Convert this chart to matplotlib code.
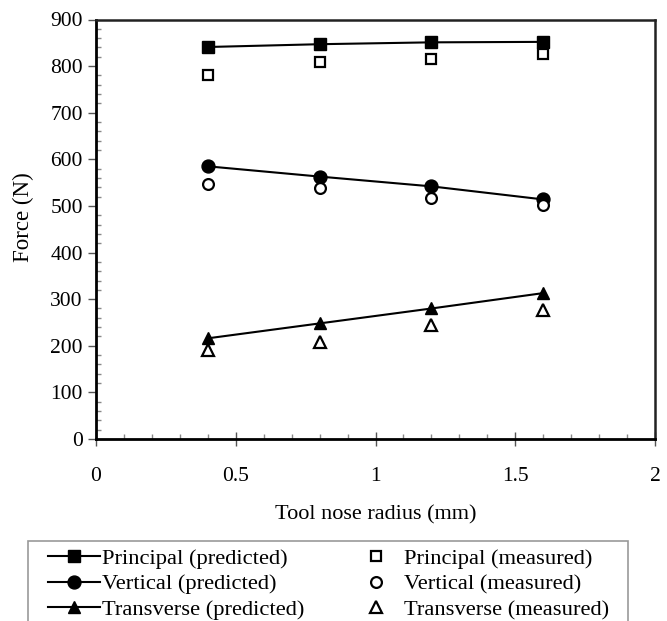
import numpy as np
import matplotlib.pyplot as plt
from matplotlib.patches import Rectangle
from matplotlib.ticker import MultipleLocator

plt.rcParams['font.family'] = ['Liberation Serif', 'DejaVu Serif']

# Radio de punta de herramienta (mm)
radius = [0.4, 0.8, 1.2, 1.6]

# Fuerzas (N)
principal_pred = [841, 847, 851, 852]
principal_meas = [782, 808, 815, 826]
vertical_pred = [585, 563, 542, 514]
vertical_meas = [547, 538, 518, 503]
transverse_pred = [216, 248, 280, 313]
transverse_meas = [191, 209, 245, 276]

fig = plt.figure(figsize=(6.67, 6.21), dpi=100)
ax = fig.add_axes([96 / 667, 1 - 439 / 621, (655 - 96) / 667, (439 - 19.5) / 621])

lw = 1.5
ms = 9.3
h1, = ax.plot(radius, principal_pred, '-s', color='black', lw=lw, ms=ms, label='Principal (predicted)')
h2, = ax.plot(radius, vertical_pred, '-o', color='black', lw=lw, ms=ms, label='Vertical (predicted)')
h3, = ax.plot(radius, transverse_pred, '-^', color='black', lw=lw, ms=ms, label='Transverse (predicted)')
h4, = ax.plot(radius, principal_meas, 's', mfc='white', mec='black', mew=1.6, ms=7.8, label='Principal (measured)')
h5, = ax.plot(radius, vertical_meas, 'o', mfc='white', mec='black', mew=1.6, ms=7.8, label='Vertical (measured)')
h6, = ax.plot(radius, transverse_meas, '^', mfc='white', mec='black', mew=1.6, ms=8.2, label='Transverse (measured)')

ax.set_xlim(0, 2)
ax.set_ylim(0, 900)
ax.xaxis.set_major_locator(MultipleLocator(0.5))
ax.xaxis.set_minor_locator(MultipleLocator(0.1))
ax.yaxis.set_major_locator(MultipleLocator(100))
ax.yaxis.set_minor_locator(MultipleLocator(20))
ax.set_xticks([0, 0.5, 1, 1.5, 2], ['0', '0.5', '1', '1.5', '2'])

ax.tick_params(axis='x', which='major', direction='inout', length=10, width=1, color='#555555', pad=15, labelsize=15.5)
ax.tick_params(axis='x', which='minor', direction='in', length=3.6, width=1, color='#888888')
ax.tick_params(axis='y', which='major', direction='out', length=6, width=1, color='#555555', pad=3.5, labelsize=15.5)
ax.tick_params(axis='y', which='minor', direction='in', length=3.6, width=1, color='#888888')

for side in ['left', 'bottom']:
    ax.spines[side].set_linewidth(2)
    ax.spines[side].set_color('black')
for side in ['top', 'right']:
    ax.spines[side].set_linewidth(1.8)
    ax.spines[side].set_color('#222222')

ax.set_xlabel('Tool nose radius (mm)', fontsize=16, labelpad=14)
ax.set_ylabel('Force (N)', fontsize=16.5)
ax.yaxis.set_label_coords(-0.111, 0.53)

# Cuadro de la leyenda (se sale por abajo de la figura)
fig.patches.append(Rectangle((28 / 667, -0.1), 600 / 667, 0.1 + (621 - 541) / 621,
                             transform=fig.transFigure, fill=False,
                             edgecolor='#999999', lw=1.2))
fig.legend(handles=[h1, h2, h3, h4, h5, h6], ncol=2, frameon=False,
           loc='upper left', bbox_to_anchor=(48 / 667, 1 - 548 / 621),
           fontsize=16.2, handlelength=2.3, handletextpad=0.1,
           labelspacing=0.22, columnspacing=2.05, borderaxespad=0,
           borderpad=0)

fig.savefig('out.png', dpi=100)
